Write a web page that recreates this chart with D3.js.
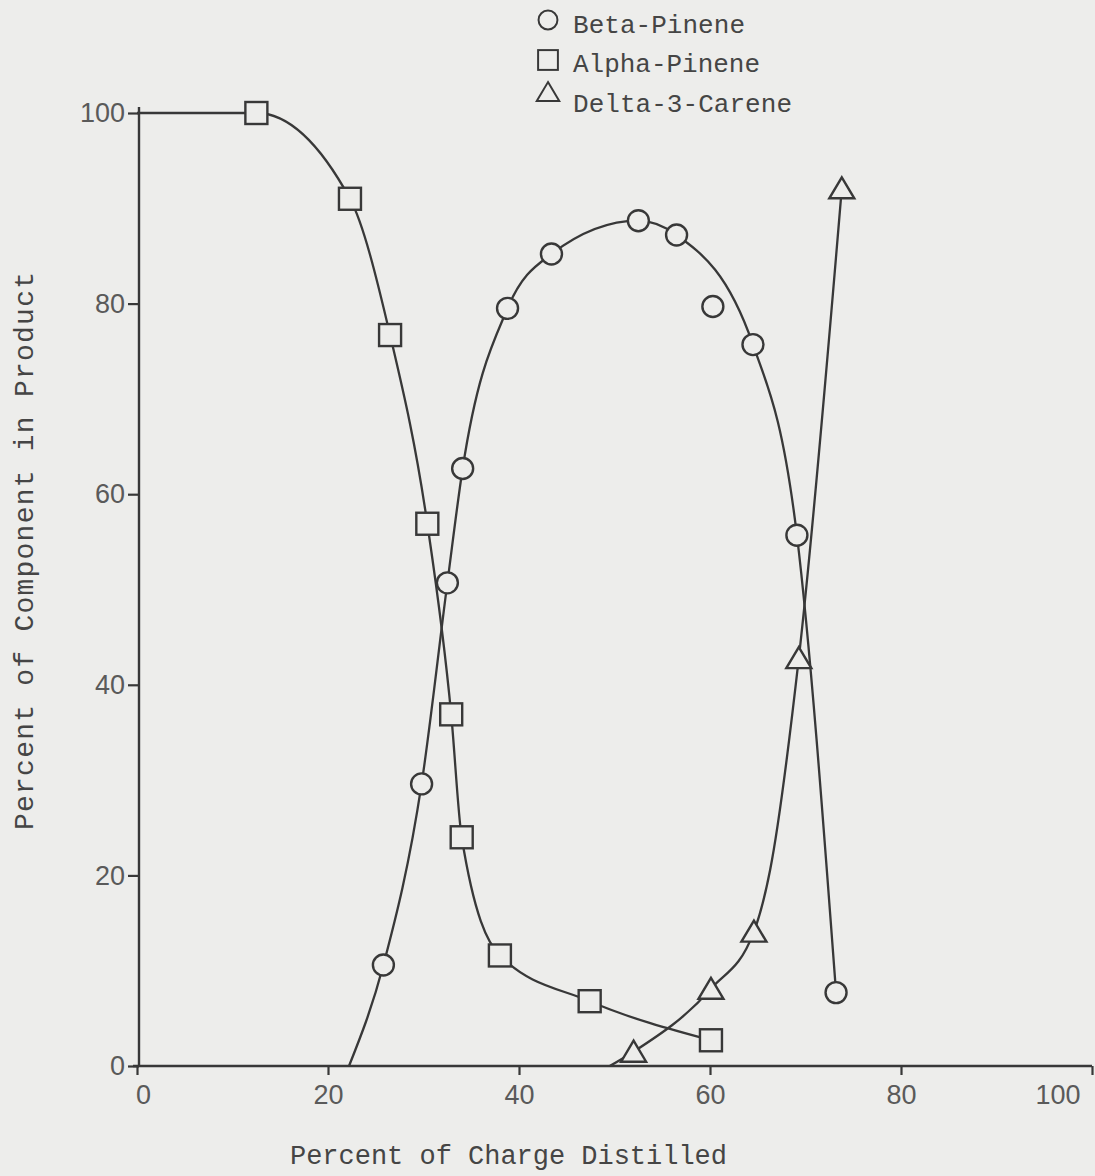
<!DOCTYPE html>
<html>
<head>
<meta charset="utf-8">
<script src="https://cdn.jsdelivr.net/npm/d3@7"></script>
<style>
  body { margin: 0; background: #ededeb; }
  svg { display: block; }
</style>
</head>
<body>
<svg width="1095" height="1176"></svg>
<script>
// chart values
const seriesNames = ["Beta-Pinene", "Alpha-Pinene", "Delta-3-Carene"];
const xTicks = [0, 20, 40, 60, 80, 100];
const yTicks = [0, 20, 40, 60, 80, 100];

// measured points (x = % of charge distilled, y = % of component)
const betaPoints = [[25.8, 10.6], [29.8, 29.6], [32.5, 50.7], [34.1, 62.7], [38.8, 79.5], [43.4, 85.2],
  [52.5, 88.7], [56.5, 87.2], [60.3, 79.7], [64.5, 75.7], [69.1, 55.7], [73.2, 7.7]];
const alphaPoints = [[12.5, 100], [22.3, 91], [26.5, 76.7], [30.4, 56.9], [32.9, 36.9], [34.0, 24.0],
  [38.0, 11.6], [47.4, 6.8], [60.1, 2.7]];
const deltaPoints = [[52.0, 1.5], [60.1, 8.1], [64.6, 14.1], [69.3, 42.8], [73.8, 92.1]];

// hand drawn curves (the 60.3 beta point is off the line)
const betaCurve = [[22.2, 0], [25.8, 10.6], [29.8, 29.6], [32.5, 50.7], [34.1, 62.7], [38.8, 79.5],
  [43.4, 85.2], [52.5, 88.7], [56.5, 87.2], [64.5, 75.7], [69.1, 55.7], [73.2, 7.7]];
const alphaCurve = [[0, 100], [12.5, 100], [22.3, 91], [26.5, 76.7], [30.4, 56.9], [32.9, 36.9],
  [34.0, 24.0], [38.0, 11.6], [47.4, 6.8], [60.1, 2.7]];
const deltaCurve = [[49.5, 0], [52.0, 1.5], [60.1, 8.1], [64.6, 14.1], [66.3, 20.6], [69.3, 42.8], [73.8, 92.1]];

const svg = d3.select("svg");
const ink = "#383838";
const paper = "#ededeb";
const textInk = "#454545";

const x = d3.scaleLinear().domain([0, 100]).range([137, 1092]);
const y = d3.scaleLinear().domain([0, 100]).range([1066, 113]);

// axes
const xAxis = svg.append("g")
  .attr("transform", `translate(0,${y(0)})`)
  .call(d3.axisBottom(x).tickValues(xTicks).tickSize(9).tickSizeOuter(0).tickPadding(10).tickFormat(d3.format("d")));
const yAxis = svg.append("g")
  .attr("transform", `translate(${x(0) + 2},0)`)
  .call(d3.axisLeft(y).tickValues(yTicks).tickSize(11).tickSizeOuter(0).tickPadding(3).tickFormat(d3.format("d")));

[xAxis, yAxis].forEach(a => {
  a.select(".domain").attr("stroke", ink).attr("stroke-width", 2.4);
  a.selectAll(".tick line").attr("stroke", ink).attr("stroke-width", 2.2);
  a.selectAll(".tick text")
    .attr("fill", "#5a5a5a")
    .style("font-family", "'Liberation Sans', Arial, sans-serif")
    .style("font-size", "27px");
});
xAxis.select(".domain").attr("d", `M${x(0) - 4},0H${x(100)}`);
yAxis.select(".domain").attr("d", `M0,${y(0)}V${y(100) - 6}`);
xAxis.selectAll(".tick text").filter(d => d === 100).attr("text-anchor", "end").attr("dx", -12);
xAxis.selectAll(".tick text").filter(d => d === 0).attr("dx", 6);

// curves
const line = d3.line().x(d => x(d[0])).y(d => y(d[1])).curve(d3.curveMonotoneX);
[betaCurve, alphaCurve, deltaCurve].forEach(c => {
  svg.append("path")
    .attr("d", line(c))
    .attr("fill", "none")
    .attr("stroke", ink)
    .attr("stroke-width", 2.3);
});

// markers
const marker = {
  circle: (g) => g.append("circle").attr("r", 10.5),
  square: (g) => g.append("rect").attr("x", -11).attr("y", -11).attr("width", 22).attr("height", 22),
  triangle: (g) => g.append("path").attr("d", "M0,-11L12.5,10L-12.5,10Z")
};

function drawMarkers(points, shape) {
  svg.append("g").selectAll("g")
    .data(points)
    .join("g")
    .attr("transform", d => `translate(${x(d[0])},${y(d[1])})`)
    .each(function () {
      marker[shape](d3.select(this))
        .attr("fill", paper)
        .attr("stroke", ink)
        .attr("stroke-width", 2.4);
    });
}
drawMarkers(betaPoints, "circle");
drawMarkers(alphaPoints, "square");
drawMarkers(deltaPoints, "triangle");

// legend
const legendShapes = ["circle", "square", "triangle"];
const legendMarkY = [20, 60, 92];
const legendTextY = [33, 72, 112];
const legendLen = [172, 187, 219];
seriesNames.forEach((name, i) => {
  const g = svg.append("g").attr("transform", `translate(548,${legendMarkY[i]})`);
  marker[legendShapes[i]](g)
    .attr("fill", "none")
    .attr("stroke", ink)
    .attr("stroke-width", 2.2)
    .attr("transform", "scale(0.9)");
  svg.append("text")
    .attr("x", 573)
    .attr("y", legendTextY[i])
    .attr("textLength", legendLen[i])
    .attr("lengthAdjust", "spacing")
    .attr("fill", textInk)
    .style("font-family", "'Liberation Mono', 'Courier New', monospace")
    .style("font-size", "26px")
    .text(name);
});

// axis titles
svg.append("text")
  .attr("x", 290)
  .attr("y", 1164)
  .attr("textLength", 437)
  .attr("lengthAdjust", "spacing")
  .attr("fill", textInk)
  .style("font-family", "'Liberation Mono', 'Courier New', monospace")
  .style("font-size", "27px")
  .text("Percent of Charge Distilled");

svg.append("text")
  .attr("transform", "translate(33,830) rotate(-90)")
  .attr("textLength", 558)
  .attr("lengthAdjust", "spacing")
  .attr("fill", textInk)
  .style("font-family", "'Liberation Mono', 'Courier New', monospace")
  .style("font-size", "28px")
  .text("Percent of Component in Product");
</script>
</body>
</html>
